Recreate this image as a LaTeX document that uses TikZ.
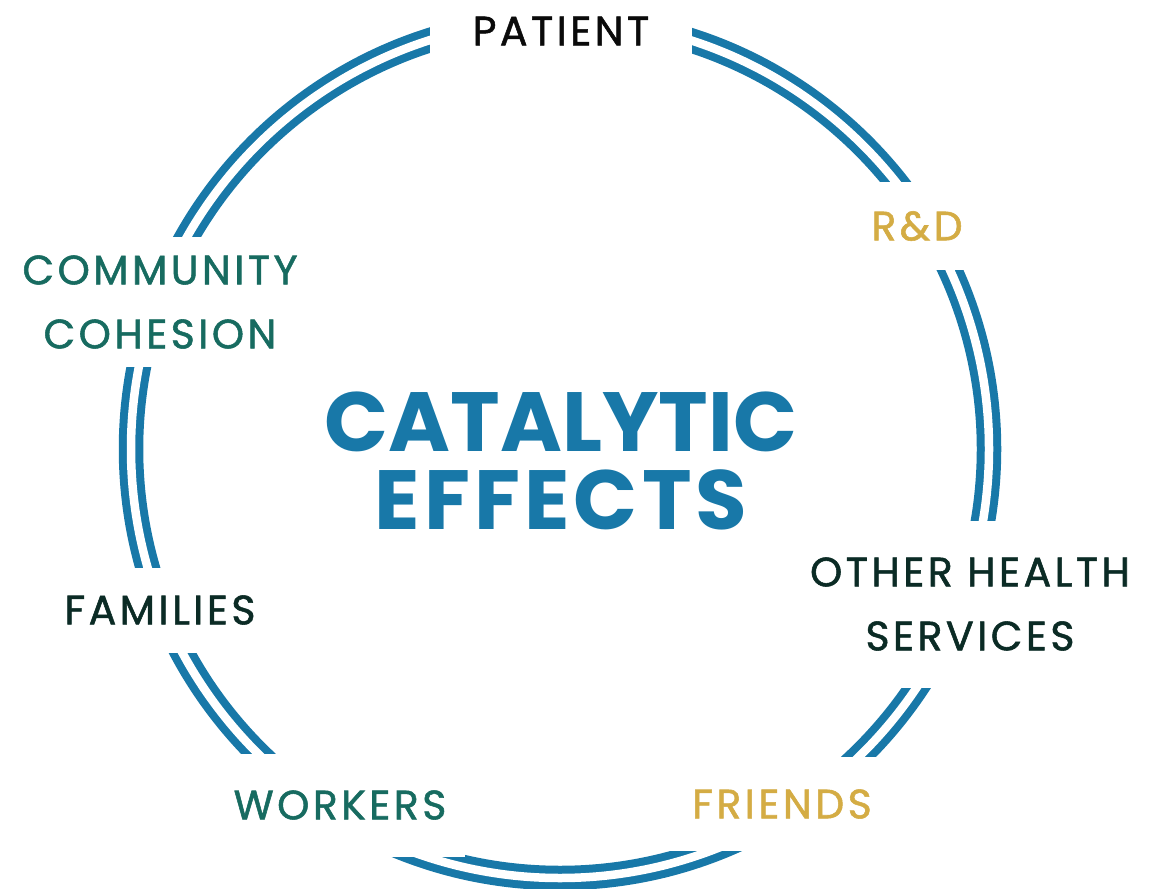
\documentclass[tikz,border=0pt]{standalone}
\usepackage{fontspec}
\setmainfont{Poppins}
\newfontfamily\ringfont[LetterSpace=8.5, FakeBold=1.3]{Poppins}

\definecolor{ringblue}{RGB}{24,120,168}
\definecolor{tealgreen}{RGB}{23,107,96}
\definecolor{goldtone}{RGB}{212,172,68}
\definecolor{darkgreen}{RGB}{11,43,37}
\definecolor{nearblack}{RGB}{10,10,10}

\begin{document}
\begin{tikzpicture}[x=1pt, y=-1pt, every node/.style={align=center, inner sep=0pt}]
    % 样式
    \tikzstyle{ring} = [line width=8pt, draw=ringblue, double=white, double distance=8.5pt]
    \tikzstyle{cut} = [rectangle, fill=white, font=\ringfont\fontsize{41}{64}\selectfont]
    \tikzstyle{title} = [font=\bfseries\fontsize{84}{78}\selectfont, text=ringblue]

    \useasboundingbox (0,0) rectangle (1155,888);

    % 圆环
    \coordinate (c) at (560,449);
    \draw[ring] (c) circle [radius=429pt];

    % 环上的标签
    \node[cut, text=nearblack, minimum width=262, minimum height=60] (patient) at (561,31) {PATIENT};
    \node[cut, text=goldtone, minimum width=170, minimum height=88] (rd) at (917,226) {R\&D};
    \node[cut, text=darkgreen, minimum width=360, minimum height=167] (other) at (970,604) {OTHER HEALTH\\SERVICES};
    \node[cut, text=goldtone, minimum width=230, minimum height=94] (friends) at (782,804) {FRIENDS};
    \node[cut, text=tealgreen, minimum width=250, minimum height=103] (workers) at (340,805) {WORKERS};
    \node[cut, text=darkgreen, minimum width=220, minimum height=85] (families) at (160,610) {FAMILIES};
    \node[cut, text=tealgreen, minimum width=300, minimum height=130] (community) at (160,302) {COMMUNITY\\COHESION};

    % 中心标题
    \node[title] (catalytic) at (561,461) {CATALYTIC\\\addfontfeatures{LetterSpace=5}EFFECTS};
\end{tikzpicture}
\end{document}
